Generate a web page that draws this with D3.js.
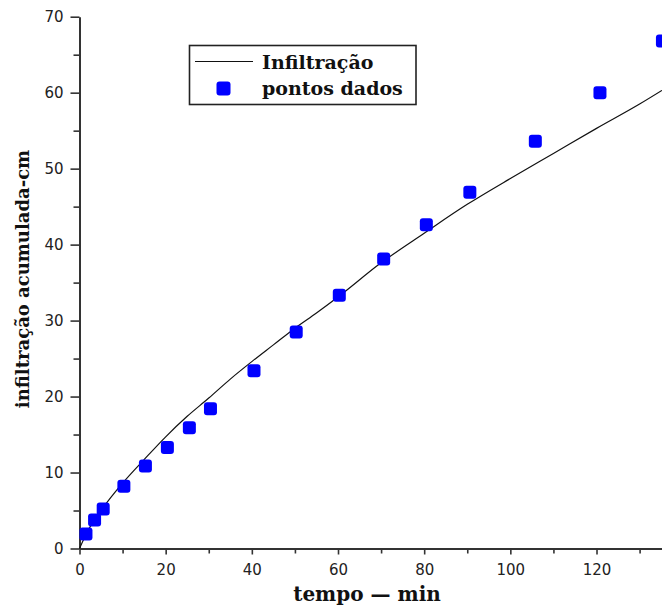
<!DOCTYPE html>
<html>
<head>
<meta charset="utf-8">
<script src="https://cdn.jsdelivr.net/npm/d3@7"></script>
<style>
  html, body { margin: 0; padding: 0; background: #fff; }
  svg { display: block; }
</style>
</head>
<body>
<svg id="chart" width="662" height="613"></svg>
<script>
// ---- data ----
const pointTime = [1.5, 3.5, 5.5, 10.3, 15.3, 20.4, 25.5, 30.4, 40.5, 50.3, 60.3, 70.6, 80.5, 90.6, 105.8, 120.8, 135.3];
const pointInfil = [1.9, 3.75, 5.2, 8.2, 10.85, 13.3, 15.9, 18.4, 23.4, 28.5, 33.35, 38.1, 42.6, 46.9, 53.6, 60.0, 66.8];

const lineTime = [0, 2, 5, 10, 15, 20, 25, 30, 35, 40, 45, 50, 55, 60, 70, 80, 90, 100, 110, 120, 130, 135.2];
const lineInfil = [0, 2.4, 5.0, 8.6, 11.7, 14.7, 17.4, 19.8, 22.3, 24.6, 26.8, 29.0, 31.0, 33.1, 37.6, 41.5, 45.3, 48.7, 52.0, 55.3, 58.5, 60.3];

const xMajorTicks = [0, 20, 40, 60, 80, 100, 120];
const xMinorTicks = [10, 30, 50, 70, 90, 110, 130];
const yMajorTicks = [0, 10, 20, 30, 40, 50, 60, 70];
const yMinorTicks = [5, 15, 25, 35, 45, 55, 65];

const legendLabels = ["Infiltração", "pontos dados"];
const xTitle = "tempo — min";
const yTitle = "infiltração acumulada-cm";

// ---- drawing ----
const svg = d3.select("#chart");
const x = d3.scaleLinear().domain([0, 135.2]).range([79.5, 662]);
const y = d3.scaleLinear().domain([0, 70]).range([548.5, 16.7]);

const axisColor = "#333";
const tickFont = "'DejaVu Sans', sans-serif";
const titleFont = "'DejaVu Serif', serif";

function styleAxis(g) {
  g.selectAll("path, line").attr("stroke", axisColor).attr("stroke-width", 1.6);
  g.selectAll("text").attr("fill", "#222").style("font-family", tickFont).style("font-size", "15px");
}

// x axis
svg.append("g").attr("transform", `translate(0,${y(0)})`)
  .call(d3.axisBottom(x).tickValues(xMinorTicks).tickSize(5).tickFormat("").tickSizeOuter(0))
  .call(g => g.select(".domain").remove())
  .call(styleAxis);
svg.append("g").attr("transform", `translate(0,${y(0)})`)
  .call(d3.axisBottom(x).tickValues(xMajorTicks).tickSize(6).tickPadding(10).tickFormat(d3.format("d")).tickSizeOuter(0))
  .call(styleAxis)
  .call(g => g.select(".domain").attr("stroke-width", 2));

// y axis
svg.append("g").attr("transform", `translate(${x(0)},0)`)
  .call(d3.axisLeft(y).tickValues(yMinorTicks).tickSize(6).tickFormat("").tickSizeOuter(0))
  .call(g => g.select(".domain").remove())
  .call(styleAxis);
svg.append("g").attr("transform", `translate(${x(0)},0)`)
  .call(d3.axisLeft(y).tickValues(yMajorTicks).tickSize(9).tickPadding(7).tickFormat(d3.format("d")).tickSizeOuter(0))
  .call(styleAxis)
  .call(g => g.select(".domain").attr("stroke-width", 2));

// fitted line
const lineData = lineTime.map((t, i) => [t, lineInfil[i]]);
svg.append("path")
  .datum(lineData)
  .attr("fill", "none")
  .attr("stroke", "#111")
  .attr("stroke-width", 1.2)
  .attr("d", d3.line().x(d => x(d[0])).y(d => y(d[1])).curve(d3.curveMonotoneX));

// data points
const ms = 13;
svg.append("g").selectAll("rect")
  .data(pointTime.map((t, i) => [t, pointInfil[i]]))
  .join("rect")
  .attr("x", d => x(d[0]) - ms / 2)
  .attr("y", d => y(d[1]) - ms / 2)
  .attr("width", ms).attr("height", ms)
  .attr("rx", 3).attr("ry", 3)
  .attr("fill", "#0000ff");

// legend
const lg = svg.append("g");
lg.append("rect").attr("x", 189.5).attr("y", 45.5).attr("width", 226.5).attr("height", 59)
  .attr("fill", "#fff").attr("stroke", "#222").attr("stroke-width", 1.6);
lg.append("line").attr("x1", 195).attr("x2", 253).attr("y1", 61.5).attr("y2", 61.5)
  .attr("stroke", "#111").attr("stroke-width", 1.2);
lg.append("rect").attr("x", 223.5 - 7).attr("y", 88.5 - 7).attr("width", 14).attr("height", 14)
  .attr("rx", 3).attr("ry", 3).attr("fill", "#0000ff");
lg.selectAll("text.leg").data(legendLabels).join("text")
  .attr("class", "leg")
  .attr("x", 262).attr("y", (d, i) => 69 + i * 25.5)
  .attr("fill", "#111")
  .style("font-family", titleFont).style("font-weight", "bold").style("font-size", "19px")
  .text(d => d);

// axis titles
svg.append("text")
  .attr("x", 367).attr("y", 601)
  .attr("text-anchor", "middle")
  .attr("fill", "#111")
  .style("font-family", titleFont).style("font-weight", "bold").style("font-size", "20px")
  .text(xTitle);

svg.append("text")
  .attr("transform", "translate(29,279) rotate(-90)")
  .attr("text-anchor", "middle")
  .attr("fill", "#111")
  .style("font-family", titleFont).style("font-weight", "bold").style("font-size", "18px")
  .text(yTitle);
</script>
</body>
</html>
